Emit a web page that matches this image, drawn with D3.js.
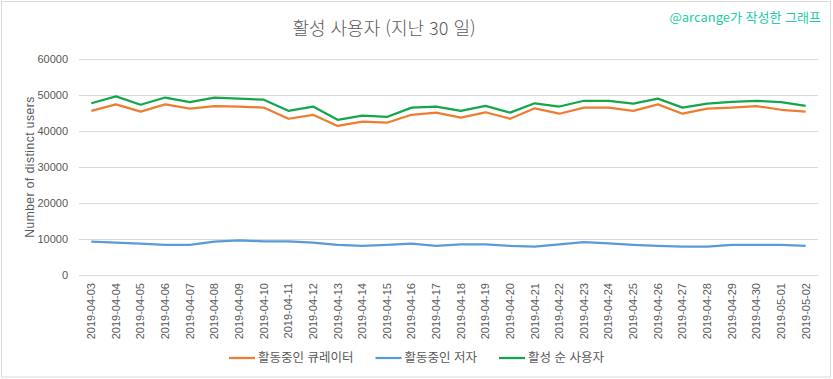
<!DOCTYPE html>
<html lang="ko">
<head>
<meta charset="UTF-8" />
<title>활성 사용자 (지난 30 일)</title>
<script src="https://d3js.org/d3.v7.min.js"></script>
<style>
  body { margin: 0; background: #fff; }
  svg { display: block; }
  .tick text { font-family: 'Liberation Sans', Arial, sans-serif; font-size: 11px; fill: #595959; }
  .kr { font-family: 'Noto Sans CJK KR', 'Noto Sans', sans-serif; }
</style>
</head>
<body>
<svg id="chart" width="833" height="379"></svg>
<script>
  // data
  const dates = ["2019-04-03","2019-04-04","2019-04-05","2019-04-06","2019-04-07","2019-04-08","2019-04-09","2019-04-10",
    "2019-04-11","2019-04-12","2019-04-13","2019-04-14","2019-04-15","2019-04-16","2019-04-17","2019-04-18","2019-04-19",
    "2019-04-20","2019-04-21","2019-04-22","2019-04-23","2019-04-24","2019-04-25","2019-04-26","2019-04-27","2019-04-28",
    "2019-04-29","2019-04-30","2019-05-01","2019-05-02"];
  const curators = [45600,47400,45400,47400,46200,46900,46800,46500,43400,44500,41400,42600,42300,44500,45100,
    43700,45200,43400,46300,44800,46500,46500,45600,47400,44800,46200,46500,46900,45900,45400];
  const authors = [9300,9000,8700,8400,8400,9300,9600,9350,9350,9000,8400,8100,8400,8700,8100,
    8500,8500,8100,7900,8500,9100,8800,8400,8100,7900,7900,8400,8400,8400,8100];
  const activeUsers = [47700,49600,47300,49300,48000,49300,49000,48700,45600,46800,43100,44300,43900,46500,46800,
    45600,47000,45100,47700,46800,48400,48400,47600,49000,46500,47600,48100,48400,48000,47000];
  const yTicks = [0,10000,20000,30000,40000,50000,60000];

  const series = [
    { name: "활동중인 큐레이터", values: curators, color: "#ed7d31" },
    { name: "활동중인 저자", values: authors, color: "#5b9bd5" },
    { name: "활성 순 사용자", values: activeUsers, color: "#14a64c" }
  ];

  const svg = d3.select("#chart");
  const plot = { left: 79, right: 818, top: 59, bottom: 275 };

  // chart frame
  svg.append("rect").attr("x", 1.5).attr("y", 1.5).attr("width", 829).attr("height", 375.5)
    .attr("fill", "#fff").attr("stroke", "#d9d9d9");

  const x = d3.scaleBand().domain(dates).range([plot.left, plot.right]);
  const y = d3.scaleLinear().domain([0, 60000]).range([plot.bottom, plot.top]);

  // gridlines + y axis
  const yAxis = svg.append("g").attr("transform", `translate(${plot.left},0)`)
    .call(d3.axisLeft(y).tickValues(yTicks).tickSize(-(plot.right - plot.left)).tickPadding(11).tickFormat(d3.format("d")));
  yAxis.select(".domain").remove();
  yAxis.selectAll(".tick line").attr("stroke", "#d9d9d9");

  // x axis
  const xAxis = svg.append("g").attr("transform", `translate(0,${plot.bottom})`)
    .call(d3.axisBottom(x).tickSize(0));
  xAxis.select(".domain").remove();
  xAxis.selectAll(".tick text")
    .attr("transform", "rotate(-90)")
    .attr("text-anchor", "end")
    .attr("x", -8).attr("y", 0).attr("dy", "0.35em");

  // lines
  const line = d3.line().x((d, i) => x(dates[i]) + x.bandwidth() / 2).y(d => y(d));
  series.forEach(s => {
    svg.append("path").datum(s.values)
      .attr("fill", "none").attr("stroke", s.color).attr("stroke-width", 2.25)
      .attr("stroke-linejoin", "round").attr("d", line);
  });

  // title
  svg.append("text").attr("class", "kr").attr("x", 384).attr("y", 35)
    .attr("text-anchor", "middle").attr("font-size", 18).attr("font-weight", 300).attr("fill", "#595959")
    .text("활성 사용자 (지난 30 일)");

  // watermark
  svg.append("text").attr("class", "kr").attr("x", 821).attr("y", 22)
    .attr("text-anchor", "end").attr("font-size", 13).attr("fill", "#22ccaa")
    .text("@arcange가 작성한 그래프");

  // y axis title
  svg.append("text")
    .attr("transform", `translate(34,${(plot.top + plot.bottom) / 2}) rotate(-90)`)
    .attr("text-anchor", "middle").attr("font-family", "'Liberation Sans', Arial, sans-serif")
    .attr("font-size", 12).attr("letter-spacing", 0.5).attr("fill", "#595959")
    .text("Number of distinct users");

  // legend
  const legend = svg.append("g").attr("transform", "translate(0,358)");
  let lx = 229;
  series.forEach(s => {
    legend.append("line").attr("x1", lx).attr("x2", lx + 26).attr("y1", 0).attr("y2", 0)
      .attr("stroke", s.color).attr("stroke-width", 2.25);
    const t = legend.append("text").attr("class", "kr").attr("x", lx + 29).attr("y", 0).attr("dy", "0.35em")
      .attr("font-size", 12.5).attr("fill", "#595959").text(s.name);
    lx += 29 + t.node().getComputedTextLength() + 22;
  });
</script>
</body>
</html>
